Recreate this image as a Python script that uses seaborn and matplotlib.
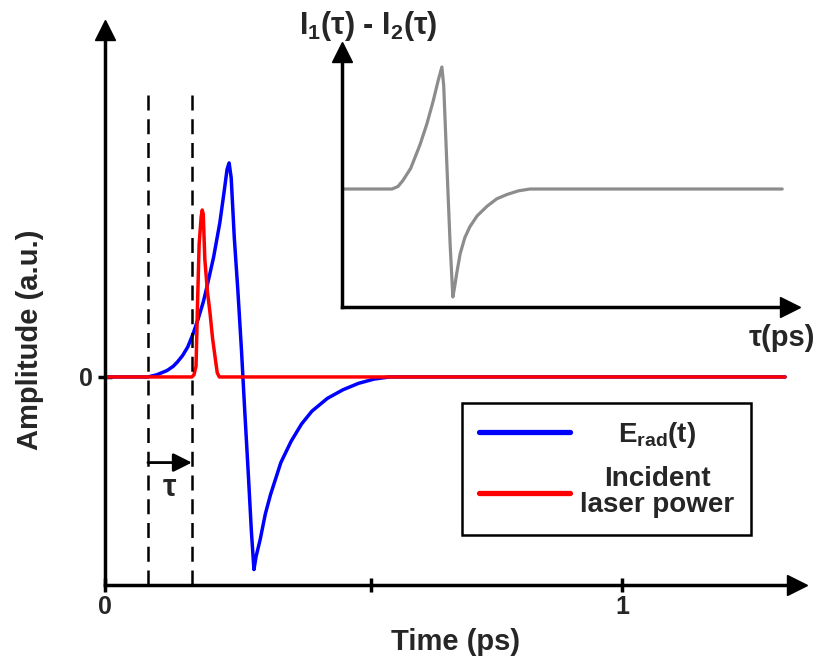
import numpy as np
import pandas as pd
import seaborn as sns
import matplotlib
matplotlib.use('Agg')
import matplotlib.pyplot as plt
from matplotlib.lines import Line2D

# E_rad(t) (time in ps, amplitude in a.u.)
erad_t = [0.00, 0.083, 0.10, 0.12, 0.132, 0.14, 0.15, 0.16, 0.17, 0.18, 0.19, 0.197, 0.21, 0.222,
          0.23, 0.236, 0.240, 0.244, 0.250, 0.257, 0.264, 0.270, 0.277, 0.283, 0.288, 0.292, 0.30,
          0.31, 0.32, 0.34, 0.36, 0.38, 0.40, 0.43, 0.46, 0.49, 0.52, 0.55, 1.315]
erad_amp = [0.0, 0.0, 0.01, 0.03, 0.05, 0.07, 0.10, 0.14, 0.20, 0.27, 0.35, 0.42, 0.56, 0.72,
            0.86, 0.97, 1.0, 0.93, 0.65, 0.40, 0.12, -0.15, -0.45, -0.72, -0.90, -0.84, -0.76,
            -0.64, -0.55, -0.40, -0.30, -0.22, -0.16, -0.10, -0.06, -0.03, -0.01, 0.0, 0.0]

# incident laser power
laser_t = [0.00, 0.168, 0.172, 0.176, 0.179, 0.182, 0.186, 0.188, 0.190, 0.193, 0.198, 0.203,
           0.208, 0.213, 0.217, 0.221, 1.315]
laser_amp = [0.0, 0.0, 0.01, 0.05, 0.35, 0.62, 0.75, 0.78, 0.76, 0.55, 0.40, 0.30,
             0.18, 0.09, 0.02, 0.0, 0.0]

# inset: I1(tau) - I2(tau)
diff_tau = [0.0, 0.109, 0.122, 0.133, 0.150, 0.170, 0.185, 0.199, 0.210, 0.218, 0.222, 0.230,
            0.236, 0.242, 0.246, 0.250, 0.258, 0.268, 0.279, 0.295, 0.317, 0.338, 0.360, 0.385,
            0.41, 0.961]
diff_val = [0.0, 0.0, 0.02, 0.07, 0.17, 0.36, 0.53, 0.72, 0.89, 1.0, 0.85, 0.10,
            -0.45, -0.885, -0.80, -0.70, -0.53, -0.40, -0.31, -0.22, -0.14, -0.08, -0.045, -0.015,
            0.0, 0.0]

delay_lines = [0.083, 0.168]
xtick_pos = [0, 0.515, 1]
xtick_labels = ["0", "", "1"]

sns.set_style("white")
plt.rcParams['font.family'] = ['Liberation Sans', 'DejaVu Sans']
plt.rcParams['font.weight'] = 'bold'
plt.rcParams['mathtext.fontset'] = 'custom'
plt.rcParams['mathtext.rm'] = 'Liberation Sans:bold'
plt.rcParams['mathtext.it'] = 'Liberation Sans:bold'
plt.rcParams['mathtext.bf'] = 'Liberation Sans:bold'
plt.rcParams['mathtext.default'] = 'rm'

fig = plt.figure(figsize=(8.2, 6.67), dpi=100)
ax = fig.add_axes([105 / 820, 82 / 667, 692 / 820, 555 / 667])

# main curves
sns.lineplot(x=erad_t, y=erad_amp, ax=ax, color='#0000ff', lw=2.5, sort=False, estimator=None)
sns.lineplot(x=laser_t, y=laser_amp, ax=ax, color='#ff0000', lw=2.5, sort=False, estimator=None)

ax.set_xlim(0, 1.338)
ax.set_ylim(-0.972, 1.621)

# delay lines and tau arrow
ax.vlines(delay_lines, -0.972, 1.35, colors='black', linestyles=(0, (6, 3.5)), lw=1.8)
ax.annotate('', xy=(delay_lines[1], -0.40), xytext=(delay_lines[0], -0.40),
            arrowprops=dict(arrowstyle='-|>', color='black', lw=2, mutation_scale=28,
                            shrinkA=0, shrinkB=0))
ax.text(np.mean(delay_lines), -0.52, 'τ', fontsize=22, ha='center', va='center')

# axes with arrowheads
for s in ['top', 'right']:
    ax.spines[s].set_visible(False)
for s in ['left', 'bottom']:
    ax.spines[s].set_linewidth(2.5)
    ax.spines[s].set_color('black')
ax.plot(1, 0, '>k', ms=14, transform=ax.transAxes, clip_on=False)
ax.plot(0, 1, '^k', ms=14, transform=ax.transAxes, clip_on=False)

ax.set_xticks(xtick_pos, xtick_labels)
ax.set_yticks([0], ['0'])
ax.tick_params(axis='x', bottom=True, direction='inout', length=10, width=2.5,
               labelsize=18, pad=2, color='black')
ax.tick_params(axis='y', left=True, direction='inout', length=10, width=2.5,
               labelsize=18, pad=4, color='black')

ax.set_xlabel('Time (ps)', fontsize=21, fontweight='bold', va='top')
ax.xaxis.set_label_coords((456 - 105) / 692, -0.078)
ax.set_ylabel('Amplitude (a.u.)', fontsize=21, fontweight='bold')
ax.yaxis.set_label_coords(-0.088, (585 - 340) / 555)

# legend
handles = [Line2D([], [], color='#0000ff', lw=3.8), Line2D([], [], color='#ff0000', lw=3.8)]
labels = ['E$_{rad}$(t)', 'Incident\nlaser power']
leg = ax.legend(handles, labels, loc='upper left',
                bbox_to_anchor=((462 - 105) / 692, (585 - 403) / 555),
                borderaxespad=0, fontsize=20, handlelength=3.3, handletextpad=0.35,
                labelspacing=0.6, frameon=True, fancybox=False, edgecolor='black',
                framealpha=1, borderpad=0.6)
leg.get_frame().set_linewidth(1.8)
texts = leg.get_texts()
texts[1].set_multialignment('center')
texts[1].set_linespacing(1.0)

# inset
ax2 = fig.add_axes([342 / 820, 360 / 667, 448 / 820, 255 / 667])
ax2.patch.set_alpha(0)
sns.lineplot(x=diff_tau, y=diff_val, ax=ax2, color='#8c8c8c', lw=2.3, sort=False, estimator=None)
ax2.set_xlim(0, 0.978)
ax2.set_ylim(-0.967, 1.123)
for s in ['top', 'right']:
    ax2.spines[s].set_visible(False)
for s in ['left', 'bottom']:
    ax2.spines[s].set_linewidth(2.5)
    ax2.spines[s].set_color('black')
ax2.plot(1, 0, '>k', ms=14, transform=ax2.transAxes, clip_on=False)
ax2.plot(0, 1, '^k', ms=14, transform=ax2.transAxes, clip_on=False)
ax2.set_xticks([])
ax2.set_yticks([])
ax2.set_xlabel('')
ax2.set_ylabel('')
ax2.text(0.058, 1.035, 'I$_1$(τ) - I$_2$(τ)', transform=ax2.transAxes, fontsize=22,
         ha='center', va='bottom')
ax2.text(1.056, -0.12, 'τ(ps)', transform=ax2.transAxes, fontsize=21, ha='right', va='center')

# centre the single-line legend label over the two-line one
fig.canvas.draw()
w0 = texts[0].get_window_extent().width
w1 = texts[1].get_window_extent().width
texts[0].set_x((w1 - w0) / 2)

fig.savefig('out.png', dpi=100)
